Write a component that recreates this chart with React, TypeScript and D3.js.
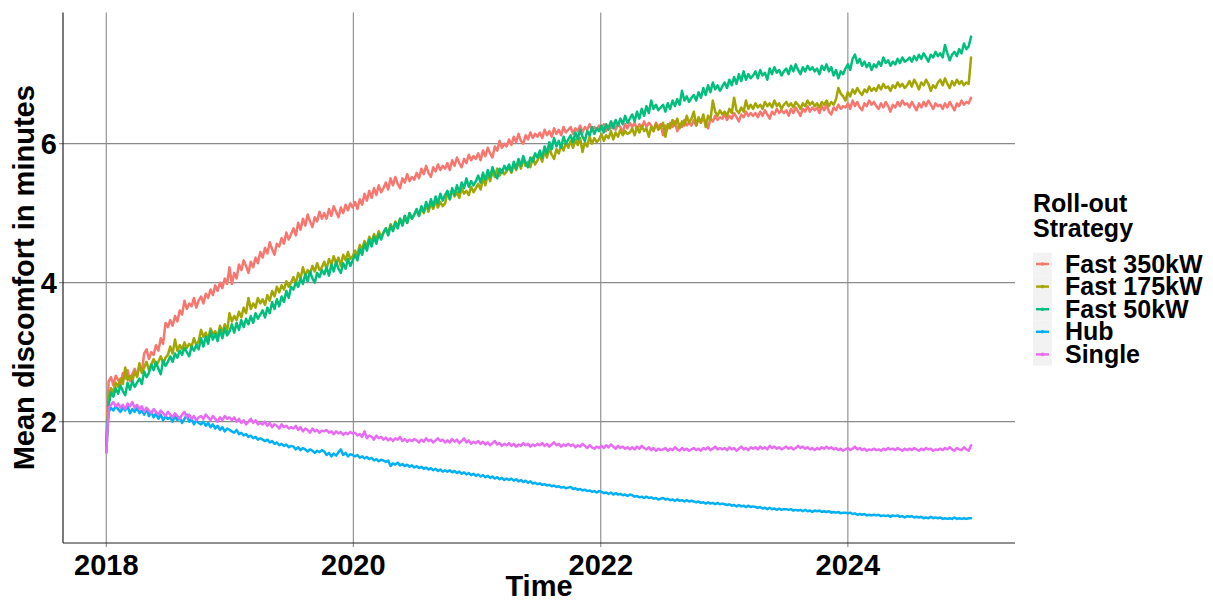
import React from "react";
import * as d3 from "d3";

const SERIES_NAMES = ["Fast 350kW", "Fast 175kW", "Fast 50kW", "Hub", "Single"];
const COLORS = ["#F8766D", "#A3A500", "#00BF7D", "#00B0F6", "#E76BF3"];
const X_TICK_YEARS = [2018, 2020, 2022, 2024];
const Y_TICKS = [2, 4, 6];
const START_DATE = new Date(2018, 0, 1);
const END_DATE = new Date(2025, 0, 1);
const STEP_DAYS = 7;

// weekly values, first week then 28 quarters of 13 weeks, then the last week
const fast350 = [1.72,
  2.58, 2.64, 2.52, 2.66, 2.60, 2.54, 2.70, 2.62, 2.74, 2.58, 2.68, 2.76, 2.66,
  2.80, 2.72, 2.98, 3.04, 2.90, 3.00, 2.96, 3.10, 3.02, 3.20, 3.12, 3.42, 3.36,
  3.46, 3.38, 3.52, 3.44, 3.60, 3.54, 3.74, 3.62, 3.70, 3.66, 3.78, 3.64, 3.74,
  3.80, 3.70, 3.84, 3.78, 3.90, 3.82, 3.96, 3.88, 4.00, 3.92, 4.06, 3.98, 4.22,
  3.98, 4.14, 4.06, 4.26, 4.18, 4.32, 4.24, 4.14, 4.30, 4.22, 4.36, 4.28, 4.44,
  4.36, 4.50, 4.42, 4.58, 4.48, 4.40, 4.56, 4.52, 4.64, 4.56, 4.72, 4.62, 4.70,
  4.78, 4.68, 4.86, 4.76, 4.92, 4.82, 4.98, 4.88, 4.80, 4.94, 4.88, 5.02, 4.92,
  5.00, 4.92, 5.06, 4.96, 5.10, 5.02, 4.94, 5.08, 5.00, 5.12, 5.04, 5.14, 5.08,
  5.16, 5.06, 5.20, 5.12, 5.28, 5.18, 5.32, 5.22, 5.36, 5.26, 5.40, 5.30, 5.36,
  5.44, 5.34, 5.50, 5.40, 5.52, 5.42, 5.36, 5.50, 5.44, 5.56, 5.46, 5.52, 5.48,
  5.58, 5.50, 5.64, 5.56, 5.68, 5.58, 5.52, 5.66, 5.60, 5.70, 5.62, 5.68, 5.64,
  5.72, 5.62, 5.76, 5.68, 5.80, 5.72, 5.66, 5.78, 5.72, 5.84, 5.76, 5.82, 5.78,
  5.86, 5.76, 5.90, 5.82, 5.94, 5.86, 5.80, 5.96, 5.90, 6.04, 5.94, 6.00, 5.96,
  6.06, 5.98, 6.10, 6.02, 6.14, 6.04, 6.00, 6.12, 6.06, 6.16, 6.08, 6.14, 6.10,
  6.16, 6.08, 6.20, 6.12, 6.18, 6.10, 6.22, 6.14, 6.20, 6.12, 6.24, 6.16, 6.20,
  6.24, 6.14, 6.22, 6.18, 6.26, 6.16, 6.24, 6.20, 6.28, 6.18, 6.24, 6.20, 6.26,
  6.20, 6.28, 6.18, 6.26, 6.22, 6.30, 6.20, 6.28, 6.24, 6.16, 6.28, 6.22, 6.30,
  6.24, 6.30, 6.20, 6.28, 6.22, 6.32, 6.24, 6.30, 6.26, 6.18, 6.30, 6.24, 6.28,
  6.12, 6.26, 6.22, 6.30, 6.24, 6.32, 6.18, 6.28, 6.24, 6.34, 6.26, 6.30, 6.26,
  6.34, 6.26, 6.36, 6.30, 6.38, 6.30, 6.22, 6.36, 6.32, 6.40, 6.34, 6.38, 6.36,
  6.42, 6.34, 6.40, 6.36, 6.44, 6.38, 6.32, 6.42, 6.38, 6.46, 6.40, 6.44, 6.40,
  6.44, 6.38, 6.46, 6.40, 6.48, 6.42, 6.36, 6.46, 6.42, 6.50, 6.44, 6.48, 6.44,
  6.48, 6.40, 6.50, 6.44, 6.52, 6.46, 6.40, 6.50, 6.46, 6.54, 6.46, 6.52, 6.48,
  6.52, 6.44, 6.54, 6.48, 6.56, 6.46, 6.42, 6.52, 6.48, 6.56, 6.50, 6.54, 6.52,
  6.58, 6.50, 6.62, 6.54, 6.60, 6.52, 6.48, 6.58, 6.54, 6.62, 6.56, 6.60, 6.54,
  6.50, 6.58, 6.52, 6.60, 6.54, 6.46, 6.56, 6.52, 6.60, 6.54, 6.62, 6.56, 6.58,
  6.52, 6.60, 6.54, 6.48, 6.58, 6.52, 6.60, 6.54, 6.62, 6.56, 6.50, 6.58, 6.54,
  6.56, 6.50, 6.58, 6.52, 6.60, 6.54, 6.48, 6.58, 6.54, 6.62, 6.56, 6.60, 6.58,
  6.66];

const fast175 = [1.66,
  2.36, 2.48, 2.42, 2.56, 2.50, 2.62, 2.54, 2.78, 2.60, 2.66, 2.58, 2.72, 2.64,
  2.84, 2.70, 2.78, 2.86, 2.74, 2.82, 2.90, 2.80, 2.86, 2.94, 2.84, 2.92, 2.96,
  3.08, 2.98, 3.18, 3.02, 3.10, 3.04, 3.14, 3.06, 3.12, 3.08, 3.20, 3.10, 3.16,
  3.32, 3.22, 3.28, 3.18, 3.34, 3.26, 3.30, 3.22, 3.38, 3.28, 3.40, 3.30, 3.56,
  3.44, 3.52, 3.46, 3.58, 3.50, 3.64, 3.56, 3.78, 3.62, 3.70, 3.64, 3.78, 3.70,
  3.76, 3.68, 3.82, 3.74, 3.88, 3.80, 3.94, 3.86, 3.96, 3.90, 4.02, 3.94, 4.00,
  4.08, 3.98, 4.14, 4.06, 4.22, 4.10, 4.18, 4.12, 4.24, 4.16, 4.28, 4.18, 4.22,
  4.30, 4.20, 4.34, 4.26, 4.38, 4.28, 4.36, 4.24, 4.40, 4.32, 4.44, 4.34, 4.38,
  4.46, 4.40, 4.54, 4.48, 4.60, 4.52, 4.66, 4.58, 4.70, 4.62, 4.74, 4.66, 4.72,
  4.78, 4.70, 4.84, 4.76, 4.88, 4.80, 4.92, 4.84, 4.96, 4.86, 5.00, 4.92, 4.98,
  5.04, 4.96, 5.08, 5.00, 5.12, 5.02, 5.14, 5.06, 5.18, 5.08, 5.16, 5.10, 5.14,
  5.30, 5.20, 5.34, 5.24, 5.30, 5.22, 5.36, 5.28, 5.32, 5.26, 5.38, 5.30, 5.36,
  5.42, 5.34, 5.50, 5.40, 5.56, 5.46, 5.60, 5.52, 5.64, 5.54, 5.62, 5.56, 5.60,
  5.66, 5.58, 5.70, 5.62, 5.74, 5.64, 5.78, 5.68, 5.74, 5.66, 5.80, 5.70, 5.76,
  5.84, 5.74, 5.90, 5.80, 5.94, 5.84, 5.78, 5.92, 5.86, 5.98, 5.90, 6.02, 5.94,
  6.04, 5.94, 6.06, 5.98, 6.08, 5.88, 6.02, 5.96, 6.10, 6.00, 6.08, 6.02, 6.06,
  6.14, 6.04, 6.12, 6.08, 6.18, 6.06, 6.16, 6.10, 6.20, 6.12, 6.18, 6.14, 6.16,
  6.22, 6.12, 6.24, 6.16, 6.26, 6.18, 6.22, 6.10, 6.24, 6.18, 6.28, 6.20, 6.24,
  6.30, 6.10, 6.28, 6.22, 6.34, 6.26, 6.36, 6.22, 6.32, 6.26, 6.40, 6.30, 6.36,
  6.46, 6.26, 6.38, 6.30, 6.42, 6.24, 6.40, 6.34, 6.62, 6.46, 6.40, 6.48, 6.42,
  6.46, 6.40, 6.50, 6.44, 6.66, 6.48, 6.44, 6.52, 6.46, 6.62, 6.50, 6.56, 6.50,
  6.58, 6.52, 6.56, 6.50, 6.60, 6.54, 6.58, 6.52, 6.62, 6.54, 6.58, 6.50, 6.56,
  6.60, 6.54, 6.58, 6.52, 6.60, 6.56, 6.50, 6.58, 6.54, 6.62, 6.56, 6.60, 6.54,
  6.58, 6.52, 6.60, 6.56, 6.62, 6.54, 6.60, 6.56, 6.64, 6.80, 6.72, 6.68, 6.62,
  6.74, 6.68, 6.78, 6.72, 6.80, 6.74, 6.70, 6.78, 6.74, 6.82, 6.76, 6.80, 6.76,
  6.84, 6.78, 6.86, 6.80, 6.82, 6.76, 6.84, 6.80, 6.88, 6.82, 6.86, 6.80, 6.84,
  6.90, 6.82, 6.92, 6.86, 6.78, 6.88, 6.84, 6.92, 6.86, 6.76, 6.84, 6.80, 6.88,
  6.92, 6.84, 6.94, 6.86, 6.80, 6.90, 6.84, 6.92, 6.86, 6.90, 6.84, 6.88, 6.86,
  7.24];

const fast50 = [1.64,
  2.24, 2.42, 2.36, 2.48, 2.40, 2.52, 2.44, 2.38, 2.56, 2.46, 2.58, 2.50, 2.56,
  2.62, 2.54, 2.72, 2.64, 2.70, 2.82, 2.74, 2.86, 2.76, 2.68, 2.88, 2.80, 2.86,
  2.94, 2.86, 2.98, 2.92, 3.02, 2.96, 3.06, 3.00, 2.94, 3.08, 3.02, 3.10, 3.04,
  3.20, 3.08, 3.22, 3.12, 3.30, 3.18, 3.26, 3.16, 3.32, 3.20, 3.34, 3.24, 3.30,
  3.40, 3.28, 3.42, 3.32, 3.46, 3.36, 3.48, 3.40, 3.52, 3.42, 3.56, 3.48, 3.54,
  3.60, 3.50, 3.64, 3.56, 3.72, 3.62, 3.76, 3.66, 3.80, 3.72, 3.88, 3.78, 3.94,
  3.90, 4.00, 3.94, 4.06, 3.98, 4.12, 4.02, 4.16, 4.06, 4.00, 4.14, 4.08, 4.18,
  4.12, 4.22, 4.10, 4.26, 4.16, 4.30, 4.20, 4.14, 4.28, 4.20, 4.34, 4.24, 4.32,
  4.40, 4.32, 4.48, 4.40, 4.56, 4.46, 4.62, 4.52, 4.66, 4.56, 4.70, 4.62, 4.72,
  4.78, 4.68, 4.82, 4.74, 4.86, 4.78, 4.92, 4.82, 4.96, 4.86, 5.00, 4.92, 4.98,
  5.06, 4.96, 5.10, 5.02, 5.16, 5.06, 5.20, 5.10, 5.24, 5.14, 5.28, 5.18, 5.26,
  5.32, 5.20, 5.36, 5.26, 5.40, 5.30, 5.44, 5.36, 5.50, 5.38, 5.46, 5.40, 5.46,
  5.54, 5.44, 5.58, 5.48, 5.62, 5.52, 5.66, 5.56, 5.50, 5.64, 5.58, 5.68, 5.62,
  5.70, 5.60, 5.74, 5.64, 5.78, 5.68, 5.82, 5.72, 5.66, 5.80, 5.74, 5.86, 5.80,
  5.90, 5.80, 5.96, 5.86, 6.02, 5.92, 6.08, 5.96, 6.04, 5.94, 6.10, 6.00, 6.06,
  6.12, 6.02, 6.16, 6.06, 6.20, 6.10, 6.04, 6.18, 6.12, 6.24, 6.14, 6.22, 6.18,
  6.26, 6.16, 6.28, 6.20, 6.32, 6.22, 6.34, 6.26, 6.36, 6.28, 6.40, 6.30, 6.36,
  6.42, 6.32, 6.46, 6.36, 6.50, 6.40, 6.54, 6.44, 6.62, 6.50, 6.56, 6.48, 6.52,
  6.56, 6.46, 6.58, 6.50, 6.62, 6.54, 6.64, 6.56, 6.76, 6.62, 6.68, 6.60, 6.66,
  6.70, 6.62, 6.74, 6.66, 6.80, 6.70, 6.84, 6.74, 6.88, 6.78, 6.84, 6.76, 6.82,
  6.88, 6.80, 6.92, 6.84, 6.96, 6.86, 7.00, 6.90, 7.04, 6.92, 7.00, 6.94, 6.98,
  7.04, 6.94, 7.06, 6.98, 7.02, 6.92, 7.08, 7.00, 7.10, 7.02, 7.06, 6.98, 7.04,
  7.08, 7.00, 7.12, 7.04, 7.14, 7.06, 7.00, 7.10, 7.04, 7.12, 7.06, 7.10, 7.04,
  7.08, 7.00, 7.12, 7.06, 7.14, 7.04, 7.10, 6.98, 7.06, 6.94, 7.04, 7.00, 7.08,
  7.14, 7.06, 7.22, 7.28, 7.16, 7.22, 7.12, 7.18, 7.10, 7.16, 7.06, 7.14, 7.10,
  7.18, 7.12, 7.24, 7.16, 7.20, 7.12, 7.18, 7.14, 7.22, 7.16, 7.24, 7.18, 7.20,
  7.24, 7.18, 7.26, 7.20, 7.28, 7.22, 7.30, 7.24, 7.18, 7.28, 7.24, 7.32, 7.26,
  7.30, 7.24, 7.42, 7.30, 7.20, 7.28, 7.32, 7.26, 7.36, 7.30, 7.44, 7.36, 7.40,
  7.54];

const hub = [1.56,
  2.14, 2.20, 2.16, 2.22, 2.18, 2.14, 2.20, 2.16, 2.22, 2.12, 2.18, 2.14, 2.20,
  2.12, 2.16, 2.10, 2.18, 2.08, 2.14, 2.06, 2.12, 2.04, 2.10, 2.02, 2.08, 2.04,
  2.06, 2.00, 2.08, 2.02, 2.06, 1.98, 2.04, 2.10, 2.00, 2.04, 1.96, 2.02, 1.98,
  1.96, 2.00, 1.94, 1.98, 1.92, 1.96, 1.90, 1.94, 1.88, 1.92, 1.86, 1.90, 1.88,
  1.86, 1.84, 1.88, 1.82, 1.84, 1.80, 1.82, 1.78, 1.80, 1.76, 1.78, 1.74, 1.76,
  1.74, 1.72, 1.74, 1.70, 1.72, 1.68, 1.70, 1.66, 1.68, 1.65, 1.67, 1.63, 1.65,
  1.64, 1.60, 1.63, 1.59, 1.62, 1.60, 1.57, 1.60, 1.58, 1.55, 1.58, 1.56, 1.59,
  1.57, 1.52, 1.55, 1.50, 1.54, 1.51, 1.56, 1.60, 1.52, 1.55, 1.50, 1.53, 1.52,
  1.50, 1.52, 1.48, 1.50, 1.47, 1.49, 1.46, 1.48, 1.44, 1.46, 1.43, 1.45, 1.44,
  1.42, 1.44, 1.36, 1.40, 1.38, 1.41, 1.37, 1.39, 1.36, 1.38, 1.35, 1.37, 1.34,
  1.36, 1.33, 1.35, 1.32, 1.34, 1.31, 1.33, 1.30, 1.32, 1.29, 1.31, 1.28, 1.30,
  1.28, 1.30, 1.27, 1.29, 1.26, 1.28, 1.25, 1.27, 1.24, 1.26, 1.23, 1.25, 1.22,
  1.24, 1.21, 1.23, 1.20, 1.22, 1.19, 1.21, 1.18, 1.20, 1.17, 1.19, 1.16, 1.18,
  1.16, 1.18, 1.15, 1.17, 1.14, 1.16, 1.13, 1.15, 1.12, 1.14, 1.11, 1.12, 1.10,
  1.11, 1.09, 1.10, 1.08, 1.09, 1.07, 1.08, 1.06, 1.07, 1.05, 1.06, 1.04, 1.05,
  1.06, 1.03, 1.04, 1.02, 1.03, 1.01, 1.02, 1.00, 1.01, 0.99, 1.00, 0.98, 1.00,
  0.99, 0.97, 0.98, 0.96, 0.98, 0.95, 0.97, 0.95, 0.96, 0.94, 0.95, 0.93, 0.95,
  0.94, 0.92, 0.93, 0.91, 0.92, 0.90, 0.92, 0.90, 0.91, 0.89, 0.90, 0.88, 0.89,
  0.90, 0.88, 0.89, 0.87, 0.88, 0.86, 0.88, 0.86, 0.87, 0.85, 0.87, 0.85, 0.86,
  0.85, 0.84, 0.85, 0.83, 0.84, 0.82, 0.84, 0.82, 0.83, 0.81, 0.83, 0.81, 0.82,
  0.81, 0.80, 0.81, 0.79, 0.80, 0.78, 0.80, 0.78, 0.79, 0.77, 0.79, 0.77, 0.78,
  0.77, 0.76, 0.77, 0.75, 0.76, 0.74, 0.76, 0.74, 0.75, 0.73, 0.75, 0.73, 0.74,
  0.74, 0.73, 0.74, 0.72, 0.73, 0.72, 0.73, 0.71, 0.73, 0.71, 0.72, 0.70, 0.72,
  0.71, 0.72, 0.70, 0.71, 0.70, 0.71, 0.69, 0.70, 0.69, 0.70, 0.68, 0.69, 0.69,
  0.68, 0.69, 0.67, 0.68, 0.66, 0.67, 0.66, 0.67, 0.65, 0.66, 0.65, 0.66, 0.65,
  0.66, 0.64, 0.65, 0.64, 0.65, 0.63, 0.65, 0.64, 0.65, 0.63, 0.64, 0.62, 0.64,
  0.63, 0.64, 0.62, 0.63, 0.62, 0.63, 0.61, 0.62, 0.61, 0.63, 0.61, 0.62, 0.61,
  0.62, 0.60, 0.61, 0.60, 0.61, 0.60, 0.62, 0.60, 0.61, 0.60, 0.61, 0.60, 0.61,
  0.61];

const single = [1.55,
  2.20, 2.24, 2.28, 2.22, 2.26, 2.20, 2.24, 2.18, 2.26, 2.22, 2.28, 2.20, 2.24,
  2.18, 2.22, 2.14, 2.20, 2.16, 2.12, 2.18, 2.14, 2.10, 2.16, 2.12, 2.08, 2.14,
  2.10, 2.06, 2.12, 2.08, 2.04, 2.10, 2.14, 2.06, 2.10, 2.04, 2.08, 2.02, 2.06,
  2.08, 2.04, 2.10, 2.06, 2.02, 2.08, 2.04, 2.00, 2.06, 2.02, 2.08, 2.04, 2.06,
  2.02, 2.06, 2.00, 2.04, 1.98, 2.02, 1.96, 2.00, 2.04, 1.98, 2.02, 1.96, 1.98,
  1.96, 2.00, 1.94, 1.98, 1.92, 1.96, 1.94, 1.90, 1.96, 1.92, 1.94, 1.90, 1.92,
  1.90, 1.94, 1.88, 1.92, 1.86, 1.90, 1.88, 1.84, 1.90, 1.86, 1.88, 1.84, 1.87,
  1.86, 1.88, 1.84, 1.86, 1.82, 1.86, 1.83, 1.85, 1.81, 1.84, 1.82, 1.85, 1.83,
  1.84, 1.80, 1.82, 1.78, 1.86, 1.76, 1.80, 1.78, 1.74, 1.80, 1.76, 1.78, 1.74,
  1.77, 1.73, 1.76, 1.72, 1.76, 1.74, 1.78, 1.72, 1.75, 1.71, 1.74, 1.72, 1.75,
  1.73, 1.70, 1.74, 1.71, 1.76, 1.72, 1.74, 1.70, 1.73, 1.76, 1.72, 1.74, 1.70,
  1.73, 1.70, 1.75, 1.71, 1.74, 1.69, 1.72, 1.76, 1.70, 1.73, 1.68, 1.71, 1.69,
  1.72, 1.68, 1.71, 1.67, 1.70, 1.66, 1.69, 1.72, 1.67, 1.69, 1.65, 1.68, 1.66,
  1.69, 1.65, 1.68, 1.64, 1.67, 1.65, 1.69, 1.66, 1.68, 1.64, 1.67, 1.65, 1.68,
  1.66, 1.69, 1.65, 1.68, 1.64, 1.67, 1.70, 1.66, 1.68, 1.64, 1.67, 1.65, 1.68,
  1.65, 1.67, 1.63, 1.66, 1.64, 1.68, 1.65, 1.62, 1.66, 1.63, 1.61, 1.64, 1.62,
  1.65, 1.62, 1.66, 1.63, 1.67, 1.64, 1.61, 1.65, 1.62, 1.64, 1.61, 1.63, 1.60,
  1.63, 1.60, 1.64, 1.61, 1.65, 1.62, 1.60, 1.63, 1.59, 1.62, 1.58, 1.61, 1.59,
  1.60, 1.62, 1.58, 1.61, 1.59, 1.63, 1.60, 1.58, 1.62, 1.59, 1.61, 1.58, 1.60,
  1.62, 1.59, 1.61, 1.58, 1.62, 1.60, 1.63, 1.59, 1.61, 1.64, 1.60, 1.62, 1.60,
  1.62, 1.59, 1.63, 1.60, 1.62, 1.58, 1.61, 1.64, 1.60, 1.62, 1.59, 1.63, 1.61,
  1.63, 1.60, 1.64, 1.61, 1.63, 1.60, 1.65, 1.62, 1.64, 1.61, 1.63, 1.60, 1.62,
  1.64, 1.61, 1.63, 1.60, 1.62, 1.65, 1.62, 1.64, 1.61, 1.63, 1.60, 1.62, 1.59,
  1.62, 1.60, 1.63, 1.61, 1.64, 1.61, 1.63, 1.60, 1.62, 1.59, 1.61, 1.58, 1.60,
  1.62, 1.59, 1.61, 1.64, 1.60, 1.62, 1.59, 1.61, 1.58, 1.60, 1.59, 1.61, 1.59,
  1.60, 1.58, 1.61, 1.59, 1.62, 1.60, 1.61, 1.59, 1.62, 1.60, 1.58, 1.61, 1.59,
  1.61, 1.59, 1.62, 1.60, 1.58, 1.61, 1.59, 1.62, 1.60, 1.61, 1.58, 1.60, 1.59,
  1.61, 1.59, 1.62, 1.60, 1.63, 1.60, 1.58, 1.62, 1.60, 1.59, 1.63, 1.60, 1.58,
  1.66];

const SERIES = [fast350, fast175, fast50, hub, single];

const FONT = "'Liberation Sans', Arial, Helvetica, sans-serif";

export default function App() {
  const W = 1213;
  const H = 601;
  const panel = { left: 63, right: 1015, top: 12.5, bottom: 543 };

  const span = +END_DATE - +START_DATE;
  const x = d3
    .scaleTime()
    .domain([new Date(+START_DATE - span * 0.05), new Date(+END_DATE + span * 0.05)])
    .range([panel.left, panel.right]);

  const allVals = SERIES.flat();
  const [lo, hi] = d3.extent(allVals) as [number, number];
  const yPad = (hi - lo) * 0.05;
  const y = d3.scaleLinear().domain([lo - yPad, hi + yPad]).range([panel.bottom, panel.top]);

  const line = d3
    .line<number>()
    .x((_, i) => x(d3.timeDay.offset(START_DATE, i * STEP_DAYS)))
    .y((d) => y(d));

  const gridColor = "#8a8a8a";

  const legendX = 1033;
  const legendRow0 = 264;
  const legendStep = 22.6;

  return (
    <div style={{ position: "absolute", left: 0, top: 0 }}>
      <svg width={W} height={H} style={{ display: "block", background: "#fff" }} fontFamily={FONT}>
        {X_TICK_YEARS.map((yr) => {
          const px = x(new Date(yr, 0, 1));
          return (
            <line key={"gx" + yr} x1={px} x2={px} y1={panel.top} y2={panel.bottom + 4} stroke={gridColor} strokeWidth={1.1} />
          );
        })}
        {Y_TICKS.map((v) => (
          <line key={"gy" + v} x1={panel.left - 4} x2={panel.right} y1={y(v)} y2={y(v)} stroke={gridColor} strokeWidth={1.1} />
        ))}

        {SERIES.map((s, k) => (
          <path
            key={SERIES_NAMES[k]}
            d={line(s) || ""}
            fill="none"
            stroke={COLORS[k]}
            strokeWidth={2.5}
            strokeLinejoin="round"
            strokeLinecap="round"
          />
        ))}

        <line x1={panel.left} x2={panel.left} y1={panel.top} y2={panel.bottom} stroke="#222" strokeWidth={1.2} />
        <line x1={panel.left} x2={panel.right} y1={panel.bottom} y2={panel.bottom} stroke="#222" strokeWidth={1.2} />

        {X_TICK_YEARS.map((yr) => (
          <text key={"tx" + yr} x={x(new Date(yr, 0, 1))} y={575} textAnchor="middle" fontSize={29} fontWeight="bold" fill="#000">
            {yr}
          </text>
        ))}
        {Y_TICKS.map((v) => (
          <text key={"ty" + v} x={57} y={y(v) + 10.5} textAnchor="end" fontSize={29} fontWeight="bold" fill="#000">
            {v}
          </text>
        ))}

        <text x={(panel.left + panel.right) / 2} y={596} textAnchor="middle" fontSize={29} fontWeight="bold" fill="#000">
          Time
        </text>
        <text
          transform={`translate(34, ${(panel.top + panel.bottom) / 2}) rotate(-90)`}
          textAnchor="middle"
          fontSize={29}
          fontWeight="bold"
          fill="#000"
        >
          Mean discomfort in minutes
        </text>

        <text x={legendX} y={212} fontSize={25} fontWeight="bold" fill="#000">
          Roll-out
        </text>
        <text x={legendX} y={237} fontSize={25} fontWeight="bold" fill="#000">
          Strategy
        </text>
        {SERIES_NAMES.map((name, k) => {
          const cy = legendRow0 + k * legendStep;
          return (
            <g key={"lg" + name}>
              <rect x={legendX} y={cy - legendStep / 2} width={19} height={legendStep} fill="#F2F2F2" />
              <line x1={legendX + 3} x2={legendX + 16} y1={cy} y2={cy} stroke={COLORS[k]} strokeWidth={2.4} />
              <circle cx={legendX + 9.5} cy={cy} r={1.8} fill={COLORS[k]} />
              <text x={1065} y={cy + 8.5} fontSize={25} fontWeight="bold" fill="#000">
                {name}
              </text>
            </g>
          );
        })}
      </svg>
    </div>
  );
}
